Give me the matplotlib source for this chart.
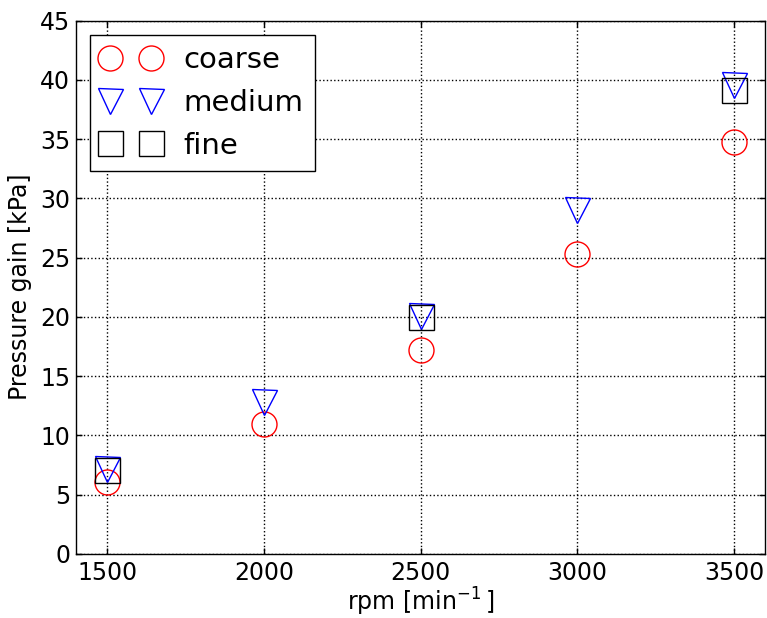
import matplotlib
matplotlib.use("Agg")
import matplotlib.pyplot as plt

rpm = [1500, 2000, 2500, 3000, 3500]
coarse = [6.05, 10.93, 17.22, 25.29, 34.8]
medium_rpm = [1500, 2000, 2500, 3000, 3500]
medium = [7.13, 12.8, 20.03, 28.98, 39.6]
fine_rpm = [1500, 2500, 3500]
fine = [7.1, 19.98, 39.17]

plt.rcParams['font.family'] = ['DejaVu Sans']
plt.rcParams['xtick.direction'] = 'in'
plt.rcParams['ytick.direction'] = 'in'
plt.rcParams['xtick.top'] = True
plt.rcParams['ytick.right'] = True
plt.rcParams['xtick.major.size'] = 4
plt.rcParams['ytick.major.size'] = 4
plt.rcParams['mathtext.default'] = 'regular'

fig = plt.figure(figsize=(7.67, 6.18), dpi=100)
ax = fig.add_axes([0.0987, 0.104, 0.9978 - 0.0987, 0.9665 - 0.104])

ms = 18
ax.plot(rpm, coarse, linestyle='none', marker='o', ms=ms, mfc='none', mec='red', mew=1, label='coarse')
ax.plot(medium_rpm, medium, linestyle='none', marker='v', ms=ms, mfc='none', mec='blue', mew=1, label='medium')
ax.plot(fine_rpm, fine, linestyle='none', marker='s', ms=ms, mfc='none', mec='black', mew=1, label='fine')

ax.set_xlim(1400, 3600)
ax.set_ylim(0, 45)
ax.set_xticks([1500, 2000, 2500, 3000, 3500])
ax.set_yticks(range(0, 46, 5))
ax.tick_params(axis='both', labelsize=17, width=1)
ax.tick_params(axis='x', pad=5)
ax.tick_params(axis='y', pad=4)
ax.grid(True, color='black', linestyle=':', linewidth=1)
ax.set_xlabel(r'rpm [min$^{-1}\,$]', fontsize=17, labelpad=1)
ax.set_ylabel('Pressure gain [kPa]', fontsize=17, labelpad=6)
for s in ax.spines.values():
    s.set_linewidth(1)

leg = ax.legend(loc='upper left', numpoints=2, fontsize=21, fancybox=False,
                framealpha=1, edgecolor='black', borderaxespad=0.48)
leg.get_frame().set_linewidth(1)

fig.savefig('out.png', dpi=100, facecolor='white')
